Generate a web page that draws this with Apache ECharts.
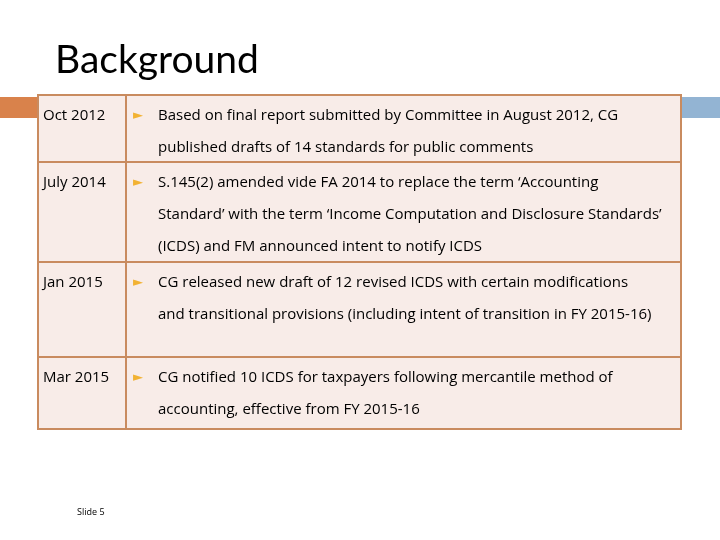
<!DOCTYPE html>
<html>
<head>
<meta charset="utf-8">
<script src="https://cdn.jsdelivr.net/npm/echarts@6/dist/echarts.min.js"></script>
<style>
  html, body { margin: 0; padding: 0; background: #FFFFFF; }
  #main { width: 720px; height: 540px; }
</style>
</head>
<body>
<div id="main"></div>
<script>
//////////// slide data //////////////////
var slideTitle = 'Background';
var footerText = 'Slide 5';
var dates = ['Oct 2012', 'July 2014', 'Jan 2015', 'Mar 2015'];
var rowLines = [
    ['Based on final report submitted by Committee in August 2012, CG',
     'published drafts of 14 standards for public comments'],
    ['S.145(2) amended vide FA 2014 to replace the term \u2018Accounting',
     'Standard\u2019 with the term \u2018Income Computation and Disclosure Standards\u2019',
     '(ICDS) and FM announced intent to notify ICDS'],
    ['CG released new draft of 12 revised ICDS with certain modifications',
     'and transitional provisions (including intent of transition in FY 2015-16)'],
    ['CG notified 10 ICDS for taxpayers following mercantile method of',
     'accounting, effective from FY 2015-16']
];
var rowEdges = [95, 162, 262, 357, 429];

//////////// layout //////////////////
var tableLeft = 38, tableRight = 681, colSplit = 126;
var lineGap = 32;
var titleFont = '39px Lato, "DejaVu Sans", sans-serif';
var bodyFont = '15px "Open Sans", Lato, sans-serif';
var borderColor = '#C98B5F';
var cellFill = '#F8ECE8';

var elements = [];
// side bars
elements.push({ type: 'rect', shape: { x: 0, y: 97, width: tableLeft, height: 21 }, style: { fill: '#D9824B' } });
elements.push({ type: 'rect', shape: { x: tableRight, y: 97, width: 720 - tableRight, height: 21 }, style: { fill: '#93B4D3' } });
// title
elements.push({ type: 'text', style: { text: slideTitle, x: 55, y: 60, font: titleFont, fill: '#000000', verticalAlign: 'middle' } });

for (var i = 0; i < dates.length; i++) {
    var rowTop = rowEdges[i], rowBottom = rowEdges[i + 1];
    elements.push({ type: 'rect', shape: { x: tableLeft, y: rowTop, width: colSplit - tableLeft, height: rowBottom - rowTop },
        style: { fill: cellFill, stroke: borderColor, lineWidth: 2 } });
    elements.push({ type: 'rect', shape: { x: colSplit, y: rowTop, width: tableRight - colSplit, height: rowBottom - rowTop },
        style: { fill: cellFill, stroke: borderColor, lineWidth: 2 } });
    var firstY = rowTop + 21;
    elements.push({ type: 'text', style: { text: dates[i], x: 43, y: firstY, font: bodyFont, fill: '#000000', verticalAlign: 'middle' } });
    elements.push({ type: 'text', style: { text: '\u25BA', x: 133, y: firstY, font: '13px "DejaVu Sans"', fill: '#F2B233', verticalAlign: 'middle' } });
    for (var j = 0; j < rowLines[i].length; j++) {
        elements.push({ type: 'text', style: { text: rowLines[i][j], x: 158, y: firstY + j * lineGap, font: bodyFont, fill: '#000000', verticalAlign: 'middle' } });
    }
}
// footer
elements.push({ type: 'text', style: { text: footerText, x: 77, y: 512, font: '9px "Open Sans", sans-serif', fill: '#000000', verticalAlign: 'middle' } });

var slide_dom = document.getElementById('main');
var slide_myChart = echarts.init(slide_dom);
var slide_option = {
    backgroundColor: '#FFFFFF',
    animation: false,
    graphic: { elements: elements }
};
slide_myChart.setOption(slide_option);
</script>
</body>
</html>
